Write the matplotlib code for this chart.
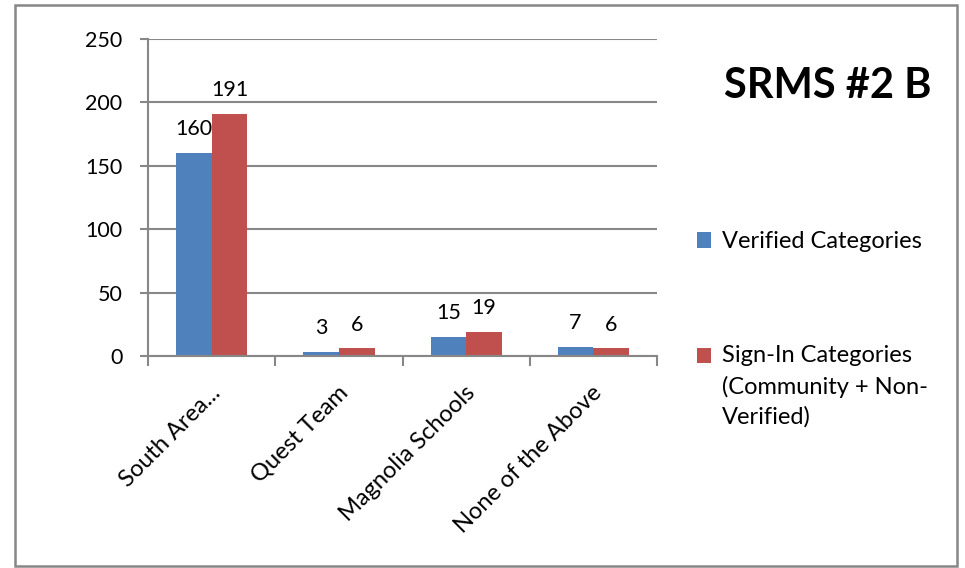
import numpy as np
import matplotlib
matplotlib.use("Agg")
import matplotlib.pyplot as plt
from matplotlib.patches import Rectangle
from matplotlib.legend_handler import HandlerPatch
from matplotlib.transforms import ScaledTranslation

plt.rcParams['font.family'] = ['Lato', 'DejaVu Sans']

categories = ["South Area...", "Quest Team", "Magnolia Schools", "None of the Above"]
verified = [160, 3, 15, 7]
sign_in = [191, 6, 19, 6]
series_names = ["Verified Categories", "Sign-In Categories\n(Community + Non-\nVerified)"]
yticks = [0, 50, 100, 150, 200, 250]

blue = "#4F81BD"
red = "#C0504D"
grey = "#878787"

fig = plt.figure(figsize=(9.65, 5.68), dpi=100)
ax = fig.add_axes([0.1534, 0.3732, 0.5275, 0.5581])

x = np.arange(len(categories))
w = 0.28
b1 = ax.bar(x - w / 2, verified, w, color=blue, label=series_names[0])
b2 = ax.bar(x + w / 2, sign_in, w, color=red, label=series_names[1])
ax.bar_label(b1, padding=10, fontsize=15.5)
ax.bar_label(b2, padding=10, fontsize=15.5)

ax.set_xlim(-0.5, len(categories) - 0.5)
ax.set_ylim(0, 250)
ax.set_yticks(yticks)
ax.yaxis.grid(True, color=grey, linewidth=1.5)
ax.set_axisbelow(True)
for s in ["top", "right"]:
    ax.spines[s].set_visible(False)
for s in ["left", "bottom"]:
    ax.spines[s].set_color(grey)
    ax.spines[s].set_linewidth(1.5)

ax.tick_params(axis="y", length=6, width=1.5, color=grey, labelsize=15.5, pad=12.5)
ax.set_xticks(x)
ax.set_xticklabels(categories, rotation=45, ha="right", va="top",
                   rotation_mode="anchor", fontsize=17)
ax.tick_params(axis="x", which="major", length=0, pad=18.5)
off = ScaledTranslation(-1.5 / 72, 0, fig.dpi_scale_trans)
for lab in ax.get_xticklabels():
    lab.set_transform(lab.get_transform() + off)
ax.set_xticks(np.arange(len(categories) + 1) - 0.5, minor=True)
ax.tick_params(axis="x", which="minor", length=7, width=1.5, color=grey)


# legend marker sits on the first line of a multi-line label
class FirstLineHandler(HandlerPatch):
    def __init__(self, color, shift, **kw):
        super().__init__(**kw)
        self.color = color
        self.shift = shift

    def create_artists(self, legend, orig_handle, xdescent, ydescent,
                       width, height, fontsize, trans):
        p = Rectangle((-xdescent, -ydescent + self.shift), width, height,
                      facecolor=self.color, edgecolor="none")
        p.set_transform(trans)
        return [p]


h1, h2 = b1.patches[0], b2.patches[0]
leg = ax.legend(handles=[h1, h2], labels=series_names, loc="upper left",
                bbox_to_anchor=(0.722, 0.593), bbox_transform=fig.transFigure,
                frameon=False, fontsize=17, borderpad=0, borderaxespad=0,
                handlelength=0.62, handleheight=0.62, handletextpad=0.45,
                labelspacing=3.95,
                handler_map={h1: FirstLineHandler(blue, 0),
                             h2: FirstLineHandler(red, 22.7)})
for t in leg.get_texts():
    t.set_linespacing(1.5)

fig.text(0.858, 0.849, "SRMS #2 B", fontsize=30, fontweight="bold",
         ha="center", va="center")

fig.patches.append(Rectangle((0.0158, 0.0035), 0.976, 0.9877, transform=fig.transFigure,
                             fill=False, edgecolor=grey, linewidth=1.8))

fig.savefig("out.png", dpi=100)
